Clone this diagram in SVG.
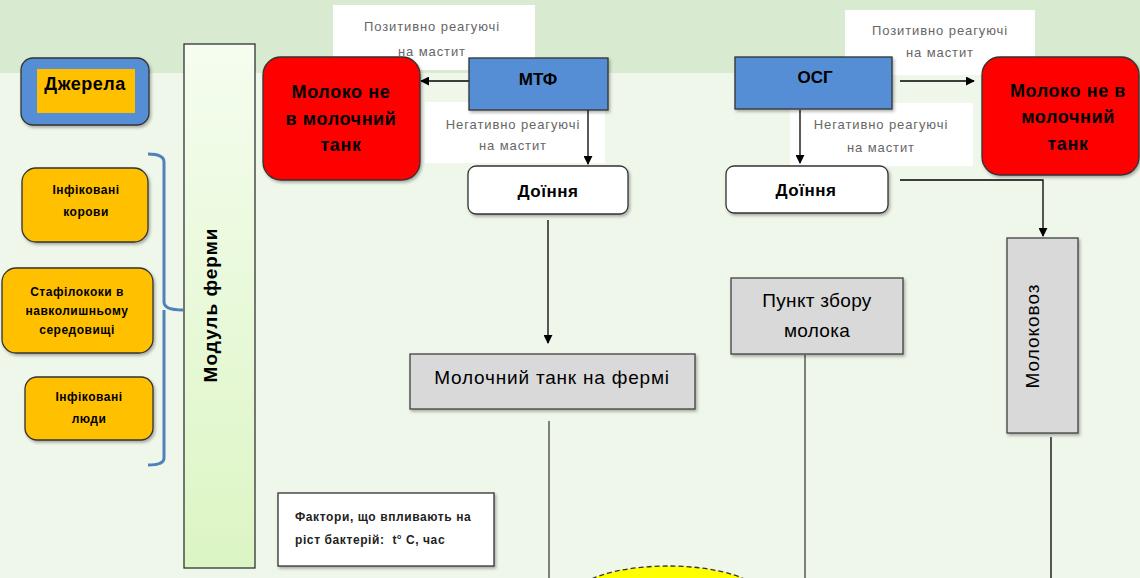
<svg xmlns="http://www.w3.org/2000/svg" width="1140" height="578" viewBox="0 0 1140 578">
<defs>
<linearGradient id="col" x1="0" y1="0" x2="0" y2="1"><stop offset="0" stop-color="#f5fdef"/><stop offset="1" stop-color="#dcf5c4"/></linearGradient>
<filter id="sh" x="-10%" y="-10%" width="130%" height="130%"><feDropShadow dx="1.5" dy="2" stdDeviation="1.5" flood-color="#000" flood-opacity="0.3"/></filter>
<marker id="ar" viewBox="0 0 10 10" refX="9" refY="5" markerWidth="9" markerHeight="9" markerUnits="userSpaceOnUse" orient="auto"><path d="M0,0 L10,5 L0,10 z" fill="#000"/></marker>
<style>
text{font-family:"Liberation Sans",Arial,sans-serif;fill:#000;text-anchor:middle}
.b{font-weight:bold}
.lbl{font-size:13px;fill:#666;letter-spacing:0.9px}
.ln{stroke:#000;stroke-width:1.3;fill:none}
.gl{stroke:#595959;stroke-width:1.5;fill:none}
.bx{stroke:#333;stroke-width:1.3}
.sm{font-size:12px;font-weight:bold;letter-spacing:0.5px}
.big{font-size:18px;letter-spacing:0.6px}
.ft{font-size:12px;font-weight:bold;letter-spacing:0.6px;fill:#222;text-anchor:start}
</style>
</defs>
<rect x="0" y="0" width="1140" height="578" fill="#eff6ea"/>
<rect x="0" y="0" width="1140" height="73" fill="#d8ebd0"/>

<g id="lbl-pos1"><rect x="333" y="5" width="202" height="65" fill="#fff"/><text class="lbl" x="432" y="31">Позитивно реагуючі</text><text class="lbl" x="432" y="56">на мастит</text></g>
<g id="lbl-neg1"><rect x="425" y="102" width="180" height="61" fill="#fff"/><text class="lbl" x="513" y="129">Негативно реагуючі</text><text class="lbl" x="513" y="150">на мастит</text></g>
<g id="lbl-pos2"><rect x="845" y="10" width="190" height="65" fill="#fff"/><text class="lbl" x="940" y="35">Позитивно реагуючі</text><text class="lbl" x="940" y="57">на мастит</text></g>
<g id="lbl-neg2"><rect x="790" y="103" width="183" height="63" fill="#fff"/><text class="lbl" x="881" y="129">Негативно реагуючі</text><text class="lbl" x="881" y="152">на мастит</text></g>

<g id="connectors">
<line class="ln" x1="469" y1="81" x2="421" y2="81" marker-end="url(#ar)"/>
<line class="ln" x1="588" y1="110" x2="588" y2="164" marker-end="url(#ar)"/>
<line class="ln" x1="548" y1="220" x2="548" y2="343" marker-end="url(#ar)"/>
<line class="gl" x1="549" y1="421" x2="549" y2="578"/>
<line class="ln" x1="900" y1="81" x2="974" y2="81" marker-end="url(#ar)"/>
<line class="ln" x1="800" y1="110" x2="800" y2="163" marker-end="url(#ar)"/>
<polyline class="ln" points="900,180 1043,180 1043,236" marker-end="url(#ar)"/>
<line class="gl" x1="805" y1="355" x2="805" y2="578"/>
<line class="ln" x1="1051" y1="437" x2="1051" y2="578"/>
<path d="M148,154 Q164,154 164,162 L164,302 Q164,310 183,310 M164,310 Q164,318 164,326 L164,458 Q164,465 148,465" stroke="#4f81bd" stroke-width="3" fill="none"/>
</g>

<g id="dzherela"><rect x="21" y="58" width="128" height="67" rx="12" fill="#558ed5" class="bx" filter="url(#sh)"/><rect x="37" y="69" width="98" height="44" fill="#ffc000"/><text class="b" x="85" y="90" font-size="18" letter-spacing="0.5">Джерела</text></g>

<g id="modul"><rect x="184" y="44" width="71" height="524" fill="url(#col)" class="bx"/><text class="b" font-size="19" letter-spacing="1" transform="translate(217,305) rotate(-90)">Модуль ферми</text></g>

<g id="infcows"><rect x="22" y="168" width="126" height="74" rx="14" fill="#ffc000" class="bx" filter="url(#sh)"/><text class="sm" x="86" y="194">Інфіковані</text><text class="sm" x="86" y="216">корови</text></g>
<g id="staph"><rect x="2" y="268" width="151" height="85" rx="14" fill="#ffc000" class="bx" filter="url(#sh)"/><text class="sm" x="77" y="296">Стафілококи в</text><text class="sm" x="77" y="315">навколишньому</text><text class="sm" x="77" y="334">середовищі</text></g>
<g id="infpeople"><rect x="25" y="377" width="128" height="63" rx="12" fill="#ffc000" class="bx" filter="url(#sh)"/><text class="sm" x="89" y="401">Інфіковані</text><text class="sm" x="89" y="423">люди</text></g>

<g id="red1"><rect x="263" y="57" width="157" height="123" rx="18" fill="#ff0000" class="bx" filter="url(#sh)"/><text class="b big" x="341" y="98">Молоко не</text><text class="b big" x="341" y="125">в молочний</text><text class="b big" x="341" y="151">танк</text></g>

<g id="mtf"><rect x="469" y="58" width="139" height="52" fill="#558ed5" class="bx" filter="url(#sh)"/><text class="b" x="538" y="85" font-size="17">МТФ</text></g>

<g id="doinnya1"><rect x="468" y="166" width="160" height="48" rx="8" fill="#fff" class="bx" filter="url(#sh)"/><text class="b" x="548" y="197" font-size="17" letter-spacing="0.5">Доїння</text></g>

<g id="tank"><rect x="410" y="354" width="285" height="55" fill="#d9d9d9" stroke="#404040" stroke-width="1.3" filter="url(#sh)"/><text x="552" y="384" font-size="19" letter-spacing="0.8">Молочний танк на фермі</text></g>

<g id="osg"><rect x="735" y="57" width="157" height="52" fill="#558ed5" class="bx" filter="url(#sh)"/><text class="b" x="815" y="83" font-size="17">ОСГ</text></g>

<g id="red2"><rect x="982" y="57" width="157" height="118" rx="18" fill="#ff0000" class="bx" filter="url(#sh)"/><text class="b big" x="1068" y="97">Молоко не в</text><text class="b big" x="1068" y="123">молочний</text><text class="b big" x="1068" y="150">танк</text></g>

<g id="doinnya2"><rect x="726" y="166" width="162" height="47" rx="8" fill="#fff" class="bx" filter="url(#sh)"/><text class="b" x="806" y="196" font-size="17" letter-spacing="0.5">Доїння</text></g>

<g id="punkt"><rect x="731" y="278" width="172" height="76" fill="#d9d9d9" stroke="#404040" stroke-width="1.3" filter="url(#sh)"/><text x="817" y="307" font-size="19" letter-spacing="0.3">Пункт збору</text><text x="817" y="337" font-size="19" letter-spacing="0.3">молока</text></g>

<g id="molokovoz"><rect x="1007" y="238" width="71" height="195" fill="#d9d9d9" stroke="#404040" stroke-width="1.3" filter="url(#sh)"/><text font-size="19" letter-spacing="1" transform="translate(1039,336) rotate(-90)">Молоковоз</text></g>

<g id="factors"><rect x="278" y="493" width="216" height="73" fill="#fff" class="bx" filter="url(#sh)"/><text class="ft" x="295" y="521">Фактори, що впливають на</text><text class="ft" x="295" y="544">ріст бактерій:&#160; t<tspan font-size="7" dy="-5">o</tspan><tspan dy="5"> C, час</tspan></text></g>

<g id="ellipse"><ellipse cx="668" cy="598" rx="95" ry="32" fill="#ffff00" stroke="#333" stroke-width="1.3" stroke-dasharray="5,3"/></g>
</svg>
